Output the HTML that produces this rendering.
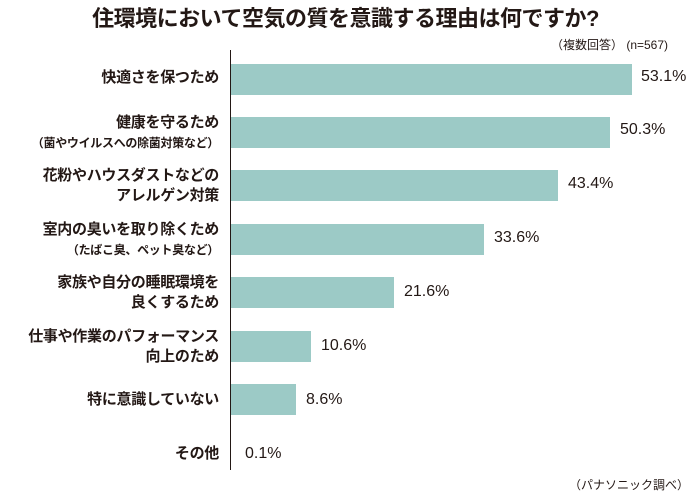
<!DOCTYPE html>
<html><head><meta charset="utf-8"><style>
body{margin:0;width:691px;height:496px;background:#fff;position:relative;overflow:hidden;font-family:"Liberation Sans","Noto Sans CJK JP",sans-serif;color:#231815}
.t{position:absolute;left:0;width:691px;text-align:center;top:1px;font-size:22px;font-weight:bold;letter-spacing:-0.5px}
.ax{position:absolute;left:230px;top:50px;width:1px;height:420px;background:#231815}
.b{position:absolute;left:231px;height:31px;background:#9ccac6}
.v{position:absolute;font-size:16px}
.l{position:absolute;right:472px;text-align:right;font-size:15px;font-weight:bold;line-height:20px;white-space:nowrap;letter-spacing:-0.3px}
.s{font-size:12px;font-weight:bold}
.n{position:absolute;font-size:12px;white-space:nowrap}
</style></head><body>
<div class="t">住環境において空気の質を意識する理由は何ですか?</div>
<div class="n" style="left:551px;top:36px">（複数回答） (n=567)</div>
<div class="ax"></div>

<div class="b" style="top:64px;width:401px"></div><div class="v" style="left:641px;top:68px">53.1%</div>
<div class="l" style="top:68px">快適さを保つため</div>

<div class="b" style="top:117px;width:379px"></div><div class="v" style="left:620px;top:121px">50.3%</div>
<div class="l" style="top:113px">健康を守るため<br><span class="s">（菌やウイルスへの除菌対策など）</span></div>

<div class="b" style="top:170px;width:327px"></div><div class="v" style="left:568px;top:175px">43.4%</div>
<div class="l" style="top:166px">花粉やハウスダストなどの<br>アレルゲン対策</div>

<div class="b" style="top:224px;width:253px"></div><div class="v" style="left:494px;top:229px">33.6%</div>
<div class="l" style="top:220px">室内の臭いを取り除くため<br><span class="s">（たばこ臭、ペット臭など）</span></div>

<div class="b" style="top:277px;width:163px"></div><div class="v" style="left:404px;top:283px">21.6%</div>
<div class="l" style="top:273px">家族や自分の睡眠環境を<br>良くするため</div>

<div class="b" style="top:331px;width:80px"></div><div class="v" style="left:321px;top:337px">10.6%</div>
<div class="l" style="top:327px">仕事や作業のパフォーマンス<br>向上のため</div>

<div class="b" style="top:384px;width:65px"></div><div class="v" style="left:306px;top:391px">8.6%</div>
<div class="l" style="top:390px">特に意識していない</div>

<div class="v" style="left:245px;top:445px">0.1%</div>
<div class="l" style="top:444px">その他</div>

<div class="n" style="left:569px;top:476px">（パナソニック調べ）</div>
</body></html>
